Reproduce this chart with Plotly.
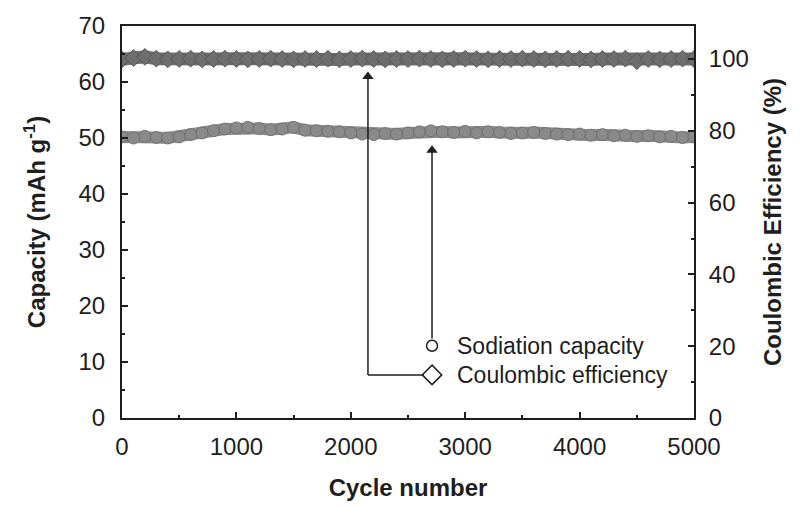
import plotly.graph_objects as go

# Long-term cycling of a sodium cell: capacity (left axis) and Coulombic efficiency (right axis)
cycles = list(range(0, 5001, 100))

capacity = [
    50.2, 50.0, 50.3, 50.1, 50.0, 50.2, 50.6, 50.9, 51.3, 51.6,
    51.8, 51.9, 51.7, 51.5, 51.6, 51.9, 51.4, 51.3, 51.2, 51.1,
    50.9, 50.7, 50.6, 50.8, 50.7, 50.9, 51.1, 51.3, 51.1, 51.0,
    51.2, 50.9, 51.1, 51.0, 50.8, 50.9, 51.0, 50.8, 50.7, 50.6,
    50.7, 50.5, 50.6, 50.4, 50.5, 50.3, 50.4, 50.2, 50.3, 50.1,
    50.2,
]

efficiency = [
    99.9, 100.3, 100.6, 100.1, 99.9, 100.0, 100.1, 99.9, 100.0, 100.1,
    100.0, 99.9, 100.0, 100.1, 100.0, 99.9, 100.0, 100.0, 100.1, 99.9,
    100.0, 100.1, 100.0, 99.9, 100.0, 100.0, 100.1, 100.0, 99.9, 100.0,
    100.1, 100.0, 99.9, 100.0, 100.0, 100.1, 100.0, 99.9, 100.0, 100.1,
    100.0, 99.9, 100.0, 100.0, 100.1, 99.4, 100.0, 99.9, 100.0, 100.1,
    100.0,
]

FONT = "Liberation Sans, Arial, sans-serif"
INK = "#1e1e1e"
TICK_SIZE = 24
TITLE_SIZE = 24

fig = go.Figure()

# Dense cycling data: the overlapping symbols read as a continuous grey band
fig.add_trace(go.Scatter(
    x=cycles, y=capacity, mode="lines+markers", name="Sodiation capacity",
    line=dict(color="#8a8a8a", width=12),
    marker=dict(symbol="circle", size=12, color="#8a8a8a",
                line=dict(width=0.8, color="#6a6a6a")),
    yaxis="y", showlegend=False,
))
fig.add_trace(go.Scatter(
    x=cycles, y=efficiency, mode="lines+markers", name="Coulombic efficiency",
    line=dict(color="#6e6e6e", width=13),
    marker=dict(symbol="diamond", size=13, color="#6e6e6e",
                line=dict(width=0.8, color="#505050")),
    yaxis="y2", showlegend=False,
))

# Key entries and pointer arrows drawn inside the plot area
key_x = 2710
ce_arrow_x = 2150
cap_key_y, ce_key_y = 12.9, 7.7
cap_tip_y, ce_tip_y = 47.8, 61.0

fig.add_trace(go.Scatter(
    x=[key_x], y=[cap_key_y], mode="markers", showlegend=False, hoverinfo="skip",
    marker=dict(symbol="circle-open", size=11, color=INK, line=dict(width=1.5)),
))
fig.add_trace(go.Scatter(
    x=[key_x], y=[ce_key_y], mode="markers", showlegend=False, hoverinfo="skip",
    marker=dict(symbol="diamond-open", size=15, color=INK, line=dict(width=1.5)),
))
# arrowheads
fig.add_trace(go.Scatter(
    x=[key_x, ce_arrow_x], y=[cap_tip_y, ce_tip_y], mode="markers",
    showlegend=False, hoverinfo="skip",
    marker=dict(symbol="triangle-up", size=10, color=INK),
))

annotations = [
    dict(x=key_x + 200, y=cap_key_y, xref="x", yref="y", text="Sodiation capacity",
         showarrow=False, xanchor="left", font=dict(family=FONT, size=23, color=INK)),
    dict(x=key_x + 200, y=ce_key_y, xref="x", yref="y", text="Coulombic efficiency",
         showarrow=False, xanchor="left", font=dict(family=FONT, size=23, color=INK)),
]

line_style = dict(color=INK, width=1.5)
shapes = [
    # capacity key -> capacity band
    dict(type="line", xref="x", yref="y", x0=key_x, y0=cap_key_y + 1.3,
         x1=key_x, y1=cap_tip_y, line=line_style),
    # efficiency key -> efficiency band (bent leader)
    dict(type="line", xref="x", yref="y", x0=ce_arrow_x, y0=ce_key_y,
         x1=key_x - 70, y1=ce_key_y, line=line_style),
    dict(type="line", xref="x", yref="y", x0=ce_arrow_x, y0=ce_key_y,
         x1=ce_arrow_x, y1=ce_tip_y, line=line_style),
]

fig.update_layout(
    width=802, height=509,
    margin=dict(l=122, r=108, t=16, b=89),
    paper_bgcolor="white", plot_bgcolor="white",
    font=dict(family=FONT, size=TICK_SIZE, color=INK),
    annotations=annotations, shapes=shapes,
    xaxis=dict(
        range=[0, 5000], tickvals=[0, 1000, 2000, 3000, 4000, 5000],
        ticks="inside", ticklen=6, tickwidth=1.5, tickcolor=INK,
        minor=dict(ticks="inside", ticklen=3, dtick=500, tickcolor=INK),
        showline=True, linecolor=INK, linewidth=2, mirror=True,
        showgrid=False, zeroline=False, ticklabelstandoff=6,
        title=dict(text="<b>Cycle number</b>", standoff=20, font=dict(size=TITLE_SIZE)),
        tickfont=dict(size=TICK_SIZE),
    ),
    yaxis=dict(
        range=[0, 70], dtick=10,
        ticks="inside", ticklen=6, tickwidth=1.5, tickcolor=INK,
        minor=dict(ticks="inside", ticklen=3, dtick=5, tickcolor=INK),
        showline=True, linecolor=INK, linewidth=2,
        showgrid=False, zeroline=False, ticklabelstandoff=10,
        title=dict(text="<b>Capacity (mAh g<sup>-1</sup>)</b>", standoff=26,
                   font=dict(size=TITLE_SIZE)),
        tickfont=dict(size=TICK_SIZE),
    ),
    yaxis2=dict(
        range=[0, 109.2], tickvals=[0, 20, 40, 60, 80, 100],
        overlaying="y", side="right",
        ticks="inside", ticklen=6, tickwidth=1.5, tickcolor=INK,
        minor=dict(ticks="inside", ticklen=3, dtick=10, tickcolor=INK),
        showline=True, linecolor=INK, linewidth=2,
        showgrid=False, zeroline=False, ticklabelstandoff=8,
        title=dict(text="<b>Coulombic Efficiency (%)</b>", standoff=16,
                   font=dict(size=TITLE_SIZE)),
        tickfont=dict(size=TICK_SIZE),
    ),
)

fig.write_html("out.html")
